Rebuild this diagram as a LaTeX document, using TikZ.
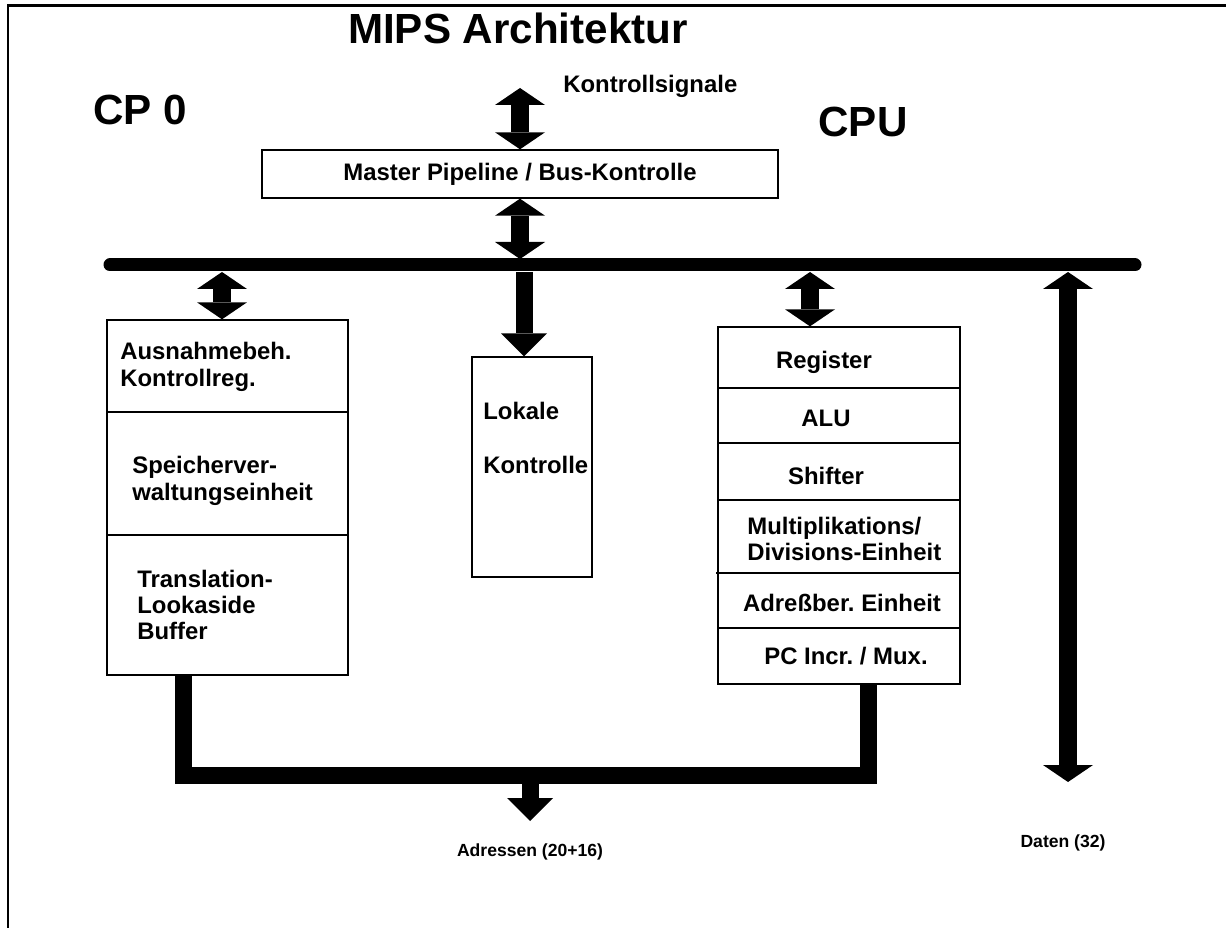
\documentclass[tikz,border=0pt]{standalone}
\usepackage{fontspec}
\setmainfont{Liberation Sans}
\usetikzlibrary{arrows.meta,positioning}
\frenchspacing

\begin{document}
\begin{tikzpicture}[x=0.02cm,y=-0.02cm,font=\bfseries\fontsize{13.6}{15}\selectfont,
  box/.style={draw=black,line width=0.8pt,inner sep=0pt},
  txt/.style={align=left,inner sep=0pt},
  big/.style={font=\bfseries\fontsize{24}{28}\selectfont,inner sep=0pt},
  lab/.style={font=\bfseries\fontsize{10}{12}\selectfont,inner sep=0pt},
  bus/.style={line width=0.26cm,line cap=round},
  adr/.style={line width=0.34cm,line join=miter},
  arr/.style={line width=0.34cm,-{Triangle[width=0.92cm,length=0.46cm,line width=0pt]}},
  dbl/.style={line width=0.36cm,{Triangle[width=1cm,length=0.34cm,line width=0pt]}-{Triangle[width=1cm,length=0.34cm,line width=0pt]}}]
\useasboundingbox (0,0) rectangle (1226,928);
\draw[line width=0.06cm] (8,928) -- (8,6) -- (1226,6);
% titles
\node[big] (title) at (518,28) {MIPS Architektur};
\node[big] (cpnull) at (140,110) {CP 0};
\node[big] (cpuname) at (863,122) {CPU};
\node[txt,anchor=base west] (ksig) at (563,93) {Kontrollsignale};
\node[box,minimum width=10.32cm,minimum height=0.96cm] (master) at (520,174) {Master Pipeline / Bus-Kontrolle};
% bus
\coordinate (busL) at (110,265);
\coordinate (busR) at (1135,265);
\draw[bus] (busL) -- (busR);
\coordinate (kstop) at (520,88);
\coordinate (busM) at (520,259);
\coordinate (busA) at (222,272);
\coordinate (busB) at (524,272);
\coordinate (busC) at (810,272);
\coordinate (busD) at (1068,272);
% units
\node[box,minimum width=4.82cm,minimum height=7.1cm] (cpz) at (227.5,497.5) {};
\node[box,minimum width=2.4cm,minimum height=4.4cm] (lok) at (532,467) {};
\node[box,minimum width=4.84cm,minimum height=7.14cm] (cpu) at (839,505.5) {};
\foreach \y in {412,535}
  \draw[line width=0.8pt] (cpz.west |- 0,\y) -- (cpz.east |- 0,\y);
\foreach \y in {388,443,500,628}
  \draw[line width=0.8pt] (cpu.west |- 0,\y) -- (cpu.east |- 0,\y);
\draw[line width=0.8pt] (716,573) -- (cpu.east |- 0,573);
\node[txt,anchor=west] (ausn) at (120,367) {Ausnahmebeh.\\Kontrollreg.};
\node[txt,anchor=west] (speich) at (132,481) {Speicherver-\\waltungseinheit};
\node[txt,anchor=west] (tlb) at (137,605) {Translation-\\Lookaside\\Buffer};
\node[txt,anchor=west] (lokk) at (483,438) {Lokale\\[16pt]Kontrolle};
\node[txt] (reg) at (824,362) {Register};
\node[txt] (alu) at (826,418) {ALU};
\node[txt] (shift) at (826,476) {Shifter};
\node[txt,anchor=west] (muldiv) at (747,539) {Multiplikations/\\Divisions-Einheit};
\node[txt] (adrb) at (842,603) {Adreßber. Einheit};
\node[txt] (pcinc) at (846,656) {PC Incr. / Mux.};
% arrows
\draw[dbl] (kstop) -- (master.north);
\draw[dbl] (master.south) -- (busM);
\draw[dbl] (busA) -- (cpz.north -| busA);
\draw[arr] (busB) -- (lok.north -| busB);
\draw[dbl] (busC) -- (cpu.north -| busC);
\coordinate (dat) at (1068,782);
\draw[dbl] (busD) -- (dat);
% address lines
\coordinate (adrL) at (183,775);
\coordinate (adrR) at (868,775);
\coordinate (adrM) at (530,775);
\coordinate (adrT) at (530,821);
\draw[adr] (cpz.south -| adrL) -- (adrL) -- (adrR) -- (cpu.south -| adrR);
\draw[arr] (adrM) -- (adrT);
\node[lab] (adrlab) at (530,852) {Adressen (20+16)};
\node[lab] (datlab) at (1063,843) {Daten (32)};
\end{tikzpicture}
\end{document}
